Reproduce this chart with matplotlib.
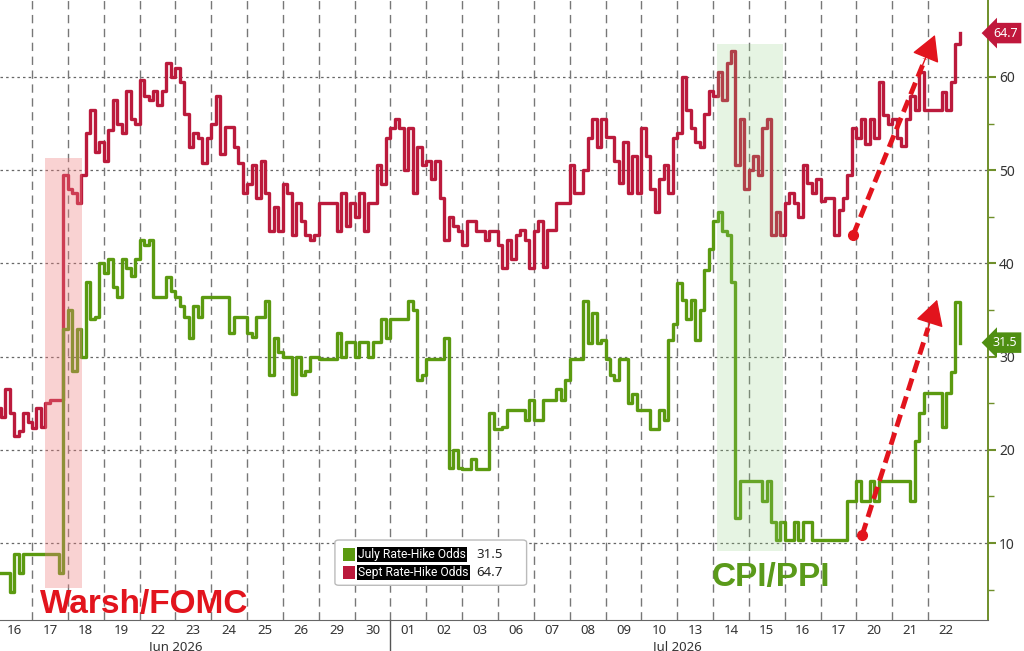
import numpy as np
import matplotlib
matplotlib.use("Agg")
import matplotlib.pyplot as plt
import matplotlib.transforms as mtransforms
from matplotlib import font_manager
from matplotlib.patches import Rectangle, FancyBboxPatch

# ---------------- data ----------------
day_labels = ['16', '17', '18', '19', '22', '23', '24', '25', '26', '29', '30',
              '01', '02', '03', '06', '07', '08', '09', '10', '13', '14', '15',
              '16', '17', '20', '21', '22']
month_labels = ['Jun 2026', 'Jul 2026']
samples_per_day = 8

july_odds = [
    6.8, 6.8, 6.8, 4.7, 8.8, 6.8, 8.8, 8.8,
    8.8, 8.8, 8.8, 8.8, 8.8, 8.8, 6.8, 33,
    35, 28.5, 33, 30, 38, 34, 34.3, 40,
    39, 40.5, 37.5, 36.4, 40.5, 39.5, 38.6, 40.5,
    42.5, 42, 42.5, 36.4, 36.4, 36.4, 38.5, 37,
    36.4, 35.4, 34.3, 32, 35.4, 34.3, 36.4, 36.4,
    36.4, 36.4, 36.4, 36.4, 32.5, 34.3, 34.3, 34.3,
    32.5, 32.1, 34.3, 34.3, 36, 28, 32, 30.5,
    30, 30, 26, 30, 28, 28.5, 30, 30,
    29.7, 29.7, 29.7, 29.7, 32.5, 30, 31.6, 31.6,
    30, 31.6, 31.6, 30, 31.6, 31.6, 34, 32,
    34, 34, 34, 34, 36, 35, 27.5, 28,
    29.7, 29.7, 29.7, 29.7, 32, 18, 20, 18,
    17.9, 17.9, 19, 17.9, 17.9, 17.9, 24, 22.2,
    22.2, 22.5, 24.3, 24.3, 24.3, 24.3, 23.2, 25.4,
    23.2, 23.2, 25.4, 25.4, 25.4, 26.5, 25.4, 27.5,
    29.7, 29.7, 29.7, 36, 31.5, 34.7, 31.5, 31.8,
    29.7, 28, 27.5, 29.7, 29.7, 25, 26, 24.3,
    24.3, 24.3, 22.2, 22.2, 24.3, 23.2, 31.8, 33.5,
    37.9, 36.1, 34, 36.1, 31.8, 35, 39.3, 41.5,
    44.5, 45.5, 43.5, 43, 38, 12.7, 16.7, 16.7,
    16.7, 16.7, 16.7, 14.5, 16.7, 12.3, 10.35, 12.3,
    10.35, 10.35, 12.3, 10.35, 12.3, 12.3, 10.35, 10.35,
    10.35, 10.35, 10.35, 10.35, 10.35, 10.35, 14.5, 14.5,
    16.7, 14.5, 14.5, 16.7, 14.5, 16.7, 16.7, 16.7,
    16.7, 16.7, 16.7, 16.7, 14.5, 21, 24, 26.1,
    26.1, 26.1, 26.1, 22.5, 26.1, 28.3, 35.9, 31.5,
]

sept_odds = [
    24.5, 23.5, 26.5, 24, 21.5, 22, 24, 23,
    22.3, 24.5, 22.5, 25, 25.4, 25.4, 25.4, 49.5,
    48, 47.5, 46.5, 49.5, 54, 56.5, 52, 53,
    51, 54.3, 57.5, 55, 54, 58.5, 55.5, 55,
    59.7, 58, 57.5, 58.5, 57, 58.5, 61.5, 60,
    61, 59.5, 56, 52.5, 54, 53.5, 50.8, 53.5,
    55, 58, 51.7, 54.6, 54.6, 52.5, 50.8, 47.5,
    48.5, 50.5, 47, 51, 47.5, 43.5, 46, 43.5,
    48.5, 47.5, 43, 46.5, 44.5, 43, 42.5, 43,
    46.5, 46.5, 46.5, 46.5, 43.5, 47.5, 44, 46.5,
    45, 47.5, 43.5, 46.5, 46.5, 50.5, 48.5, 53.5,
    54.5, 55.5, 54.5, 50, 54.5, 47.5, 52.5, 50.5,
    51, 49, 51, 47, 42.5, 45, 44, 43.5,
    42, 44.5, 44.5, 43.5, 43.5, 42.5, 43.5, 43.5,
    42, 39.5, 42.5, 40.5, 43, 43.6, 42.5, 39.5,
    43.5, 44.5, 39.6, 43.6, 43.6, 46.5, 46.5, 46.5,
    50.5, 47.6, 47.6, 50, 53.5, 55.5, 52.5, 55.5,
    53.6, 53.6, 51, 48.6, 53, 47.6, 51.5, 47.6,
    54.5, 51.5, 48, 45.5, 49, 50.5, 47.5, 53.5,
    54, 60, 56.5, 54.5, 53, 52.5, 56, 58.5,
    58, 60.5, 57.5, 61.5, 62.8, 50.5, 55.5, 48,
    50, 51.5, 49.5, 54.5, 55.5, 43, 45.5, 43,
    46.5, 47.5, 46.5, 45, 50.5, 48.6, 47.5, 49,
    46.7, 47, 47, 43, 45.7, 47, 49.5, 54.5,
    53.5, 55.5, 52.8, 55.5, 53.5, 59.5, 55.9, 55,
    55.5, 53.5, 52.6, 55.5, 58, 56.5, 60.5, 56.5,
    56.5, 56.5, 56.5, 58.4, 56.5, 59.5, 63.5, 64.7,
]

july_last = 31.5
sept_last = 64.7
series_names = ['July Rate-Hike Odds', 'Sept Rate-Hike Odds']

# ---------------- style ----------------
RED = '#bb1a3c'
GREEN = '#5b9a10'
ANN_RED = '#e2141d'
ANN_GREEN = '#5a9a1a'
AXIS_GREEN = '#6f8f2a'

# pick a narrow font for the legend if available
try:
    font_manager.findfont(font_manager.FontProperties(family='Liberation Sans Narrow'),
                          fallback_to_default=False)
    LEG_FONT, LEG_SIZE = 'Liberation Sans Narrow', 10.2
except Exception:
    LEG_FONT, LEG_SIZE = 'Roboto', 8.7

fig = plt.figure(figsize=(10.24, 6.51), dpi=100)
ax = fig.add_axes([0.0, 31 / 651, 988 / 1024, 620 / 651])
ax.set_xlim(0.107, 27.67)
ax.set_ylim(1.75, 68.25)

t = np.arange(len(july_odds)) / samples_per_day

# grid
for v in range(10, 70, 10):
    ax.axhline(v, color='#666666', lw=0.9, ls=(0, (2, 2.5)), zorder=0.5)
for i in range(1, len(day_labels)):
    ax.axvline(i, color='#777777', lw=1.0, ls=(0, (6, 4)), zorder=0.5)

# lines
ax.plot(t, sept_odds, drawstyle='steps-post', color=RED, lw=2.4, zorder=3)
ax.plot(t, july_odds, drawstyle='steps-post', color=GREEN, lw=2.4, zorder=3)

# shaded event windows (drawn over the lines)
ax.add_patch(Rectangle((1.36, 5.2), 1.04, 46.1, facecolor='#f08080', alpha=0.35,
                       edgecolor='none', zorder=4))
ax.add_patch(Rectangle((20.11, 9.1), 1.84, 54.4, facecolor='#90d080', alpha=0.22,
                       edgecolor='none', zorder=4))

# annotations
ax.text(1.22, 3.4, 'Warsh/FOMC', color=ANN_RED, fontsize=24, fontweight='bold',
        family='Liberation Sans', ha='left', va='center', zorder=6)
ax.text(19.97, 6.3, 'CPI/PPI', color=ANN_GREEN, fontsize=24, fontweight='bold',
        family='Liberation Sans', ha='left', va='center', zorder=6)

arrows = [((23.91, 43.07), (26.19, 64.5)), ((24.16, 10.86), (26.25, 36.1))]
for (x0, y0), (x1, y1) in arrows:
    ax.plot([x0, x0 + 0.88 * (x1 - x0)], [y0, y0 + 0.88 * (y1 - y0)],
            color=ANN_RED, lw=3.5, ls=(0, (2.6, 1.3)), zorder=6,
            solid_capstyle='butt', dash_capstyle='butt')
    ax.plot([x0], [y0], 'o', color=ANN_RED, ms=7, zorder=6)
    ax.annotate('', xy=(x1, y1), xytext=(x0 + 0.85 * (x1 - x0), y0 + 0.85 * (y1 - y0)),
                arrowprops=dict(arrowstyle='-|>,head_length=0.9,head_width=0.5',
                                color=ANN_RED, lw=1, mutation_scale=18, shrinkA=0, shrinkB=0),
                zorder=6)

# spines / axes
for s in ['left', 'top']:
    ax.spines[s].set_visible(False)
ax.spines['bottom'].set_color('#666666')
ax.spines['right'].set_color(AXIS_GREEN)
ax.spines['right'].set_linewidth(1.4)

ax.set_xticks(np.arange(len(day_labels)) + 0.5)
ax.set_xticklabels(day_labels, family='Noto Sans', fontsize=9.5, color='#333333')
ax.tick_params(axis='x', length=0, pad=3)

ax.yaxis.tick_right()
ax.set_yticks(range(10, 70, 10))
ax.set_yticks(range(5, 60, 10), minor=True)
ax.set_yticklabels([str(v) for v in range(10, 70, 10)], family='Noto Sans', fontsize=10,
                   color='#333333')
ax.tick_params(axis='y', which='major', length=6, width=1.5, color=AXIS_GREEN, pad=2)
ax.tick_params(axis='y', which='minor', length=4, width=1.0, color=AXIS_GREEN)

# month labels & separator
trans_xd = mtransforms.blended_transform_factory(ax.transData, ax.transAxes)
ax.text(5.0, -0.042, month_labels[0], transform=trans_xd, ha='center', va='center',
        family='Noto Sans', fontsize=9.5, color='#333333')
ax.text(19.0, -0.042, month_labels[1], transform=trans_xd, ha='center', va='center',
        family='Noto Sans', fontsize=9.5, color='#333333')
ax.plot([11, 11], [0, -0.06], transform=trans_xd, color='#555555', lw=1.0, clip_on=False)

# last value tags
trans_ad = mtransforms.blended_transform_factory(ax.transAxes, ax.transData)
ax.text(1.005, sept_last, f'{sept_last:.1f}', transform=trans_ad, ha='left', va='center',
        family='Noto Sans', fontsize=9, color='white', clip_on=False, zorder=7,
        bbox=dict(boxstyle='larrow,pad=0.3', fc='#c0183c', ec='none'))
ax.text(1.005, july_last, f'{july_last:.1f}', transform=trans_ad, ha='left', va='center',
        family='Noto Sans', fontsize=9, color='white', clip_on=False, zorder=7,
        bbox=dict(boxstyle='larrow,pad=0.3', fc='#4f8f12', ec='none'))

# legend (manual)
ax.add_patch(FancyBboxPatch((0.341, 0.058), 0.19, 0.069, transform=ax.transAxes,
                            boxstyle='round,pad=0.002,rounding_size=0.004',
                            fc='white', ec='#bbbbbb', lw=1.0, zorder=8))
rows = [(GREEN, series_names[0], july_last, 0.105), (RED, series_names[1], sept_last, 0.076)]
for col, name, val, yy in rows:
    ax.add_patch(Rectangle((0.347, yy - 0.0105), 0.012, 0.021, transform=ax.transAxes,
                           fc=col, ec='none', zorder=9))
    ax.text(0.3625, yy, name, transform=ax.transAxes, ha='left', va='center',
            family=LEG_FONT, fontsize=LEG_SIZE, color='white', zorder=9,
            bbox=dict(boxstyle='square,pad=0.08', fc='black', ec='none'))
    ax.text(0.482, yy, f'{val:.1f}', transform=ax.transAxes, ha='left', va='center',
            family='Noto Sans', fontsize=9.5, color='#222222', zorder=9)

fig.savefig('out.png', dpi=100)
